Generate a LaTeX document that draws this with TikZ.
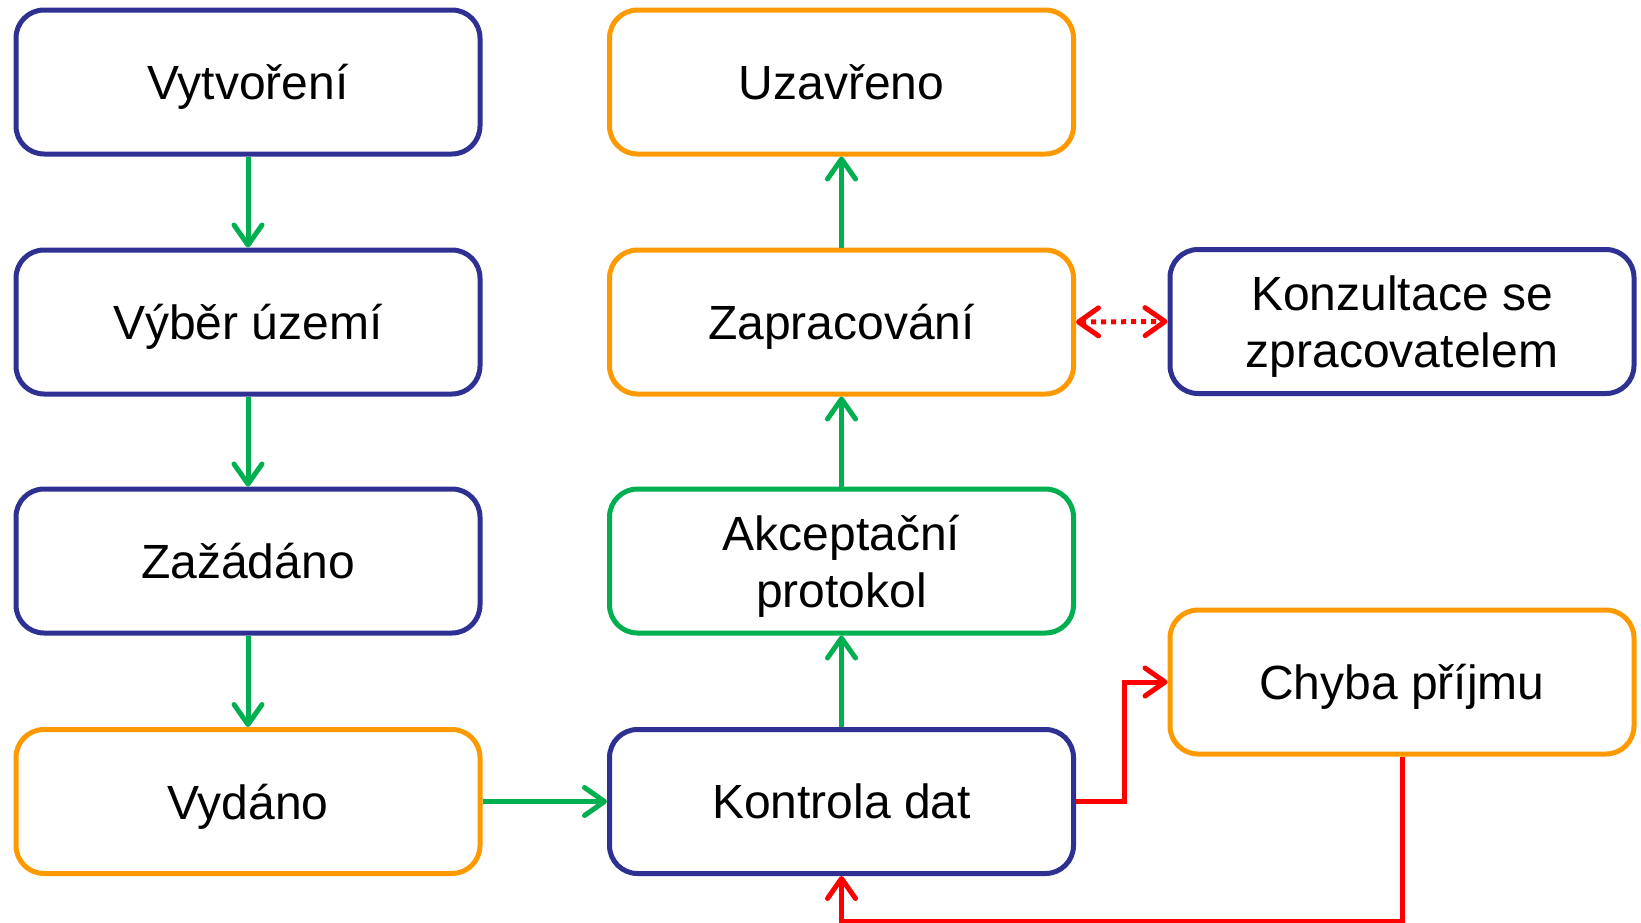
\documentclass[tikz,border=0pt]{standalone}
\usepackage{fontspec}
\setmainfont{Liberation Sans}
\usetikzlibrary{arrows.meta}
\definecolor{navy}{RGB}{47,49,146}
\definecolor{orng}{RGB}{255,153,0}
\definecolor{grn}{RGB}{0,176,80}
\definecolor{rd}{RGB}{255,0,0}
\tikzset{
  box/.style={draw, line width=5pt, rounded corners=28pt, minimum width=464pt, minimum height=144pt, inner sep=0pt, align=center, text depth=0pt, font=\fontsize{48}{57}\selectfont},
  bluebox/.style={box, draw=navy},
  orangebox/.style={box, draw=orng},
  greenbox/.style={box, draw=grn},
  barb/.style={Straight Barb[round,length=20pt,width=28pt,line width=5pt]},
  tip/.style={-{Straight Barb[round,length=20pt,width=28pt,line width=5pt]}},
  garrow/.style={tip, draw=grn, line width=5pt},
  rarrow/.style={tip, draw=rd, line width=5pt},
}
\begin{document}
\begin{tikzpicture}[x=1pt,y=-1pt]
\useasboundingbox (0,0) rectangle (1641,922);
\node[bluebox] (vyt) at (248,82) {Vytvoření};
\node[bluebox] (vyb) at (248,322) {Výběr území};
\node[bluebox] (zaz) at (248,561) {Zažádáno};
\node[orangebox] (vyd) at (248,801.5) {Vydáno};
\node[orangebox] (uza) at (841.5,82) {Uzavřeno};
\node[orangebox] (zap) at (841.5,322) {Zapracování};
\node[greenbox] (akc) at (841.5,561) {Akceptační\\protokol};
\node[bluebox] (kon) at (841.5,801.5) {Kontrola dat};
\node[bluebox] (kzs) at (1402,321.5) {Konzultace se\\zpracovatelem};
\node[orangebox] (chy) at (1402,682) {Chyba příjmu};

\draw[garrow] (vyt.south) -- (vyb.north);
\draw[garrow] (vyb.south) -- (zaz.north);
\draw[garrow] (zaz.south) -- (vyd.north);
\draw[garrow] (vyd.east) -- (kon.west);
\draw[garrow] (kon.north) -- (akc.south);
\draw[garrow] (akc.north) -- (zap.south);
\draw[garrow] (zap.north) -- (uza.south);
\draw[rd, line width=5pt, dash pattern=on 5pt off 5pt, {Straight Barb[round,length=20pt,width=28pt,line width=5pt]}-{Straight Barb[round,length=20pt,width=28pt,line width=5pt]}] (zap.east) -- (kzs.west);
\draw[rarrow] (kon.east) -- ++(48,0) |- (chy.west);
\draw[rarrow] (chy.south) |- ([yshift=-45pt]kon.south) -- (kon.south);
\end{tikzpicture}
\end{document}
